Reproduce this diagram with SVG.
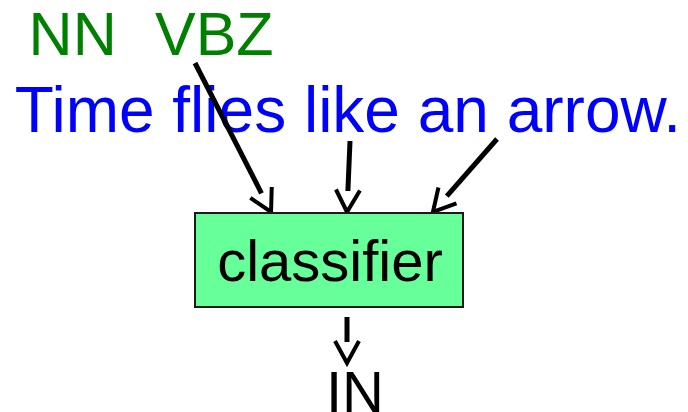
<svg xmlns="http://www.w3.org/2000/svg" width="688" height="412" viewBox="0 0 688 412">
  <defs>
    <style>
      text { font-family: "Liberation Sans", Arial, sans-serif; }
      .tag { fill: #008000; font-size: 61px; }
      .sentence { fill: #0000ff; font-size: 64px; }
      .label { fill: #000000; font-size: 58px; }
      .box { fill: #66ff99; stroke: #1a1a1a; stroke-width: 2; }
      .edge { stroke: #000000; stroke-width: 5; fill: none; }
    </style>
    <!-- open V arrowhead; the shaft stops where the head opens -->
    <marker id="openArrow" markerUnits="userSpaceOnUse" markerWidth="40" markerHeight="40"
            refX="0" refY="0" viewBox="-5 -20 40 40" orient="auto" overflow="visible">
      <path d="M-1,-12 L21,0 L-1,12" fill="none" stroke="#000000" stroke-width="4"/>
    </marker>
  </defs>

  <g id="tags">
    <text class="tag" x="28.6" y="54.5">NN</text>
    <text class="tag" x="155" y="54.5">VBZ</text>
  </g>

  <g id="sentence">
    <text class="sentence" x="14.7" y="132">Time flies like an arrow.</text>
  </g>

  <g id="connectors">
    <line class="edge" x1="195" y1="63" x2="261.5" y2="193.3" marker-end="url(#openArrow)"/>
    <line class="edge" x1="350" y1="141" x2="347.9" y2="191" marker-end="url(#openArrow)"/>
    <line class="edge" x1="497" y1="139" x2="446.8" y2="196.2" marker-end="url(#openArrow)"/>
    <line class="edge" x1="347" y1="317" x2="347" y2="342" marker-end="url(#openArrow)"/>
  </g>

  <g id="classifier">
    <rect class="box" x="195" y="213" width="268" height="94"/>
    <text class="label" x="330" y="281" text-anchor="middle">classifier</text>
  </g>

  <g id="output">
    <text class="label" x="326" y="412">IN</text>
  </g>
</svg>
